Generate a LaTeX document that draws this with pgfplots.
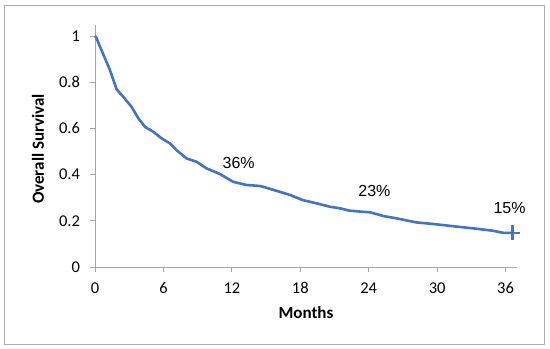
\documentclass[border=0pt]{standalone}
\usepackage{fontspec}
\setmainfont{Carlito}
\newfontfamily\arialf{Liberation Sans}
\usepackage{pgfplots}
\pgfplotsset{compat=1.18}
\definecolor{kmblue}{HTML}{4472C4}
\definecolor{axgray}{HTML}{A6A6A6}
\definecolor{framegray}{HTML}{ADADAD}
\begin{document}
\begin{tikzpicture}
\fill[white] (-95bp,-82bp) rectangle (455bp,267bp);
\draw[framegray, line width=1bp] (-90bp,-77bp) rectangle (449bp,261bp);
\begin{axis}[at={(0,0)}, anchor=origin, scale only axis, width=422bp, height=242bp,
  xmin=0, xmax=37, ymin=0, ymax=1.048,
  axis x line=bottom, axis y line=left,
  axis line style={axgray, line width=0.8bp, -},
  xtick={0,6,...,36}, ytick={0,0.2,0.4,0.6,0.8,1},
  tick align=outside, major tick length=5bp,
  tick style={axgray, line width=0.8bp},
  /pgf/number format/assume math mode=true,
  ticklabel style={font=\fontsize{16.5bp}{19bp}\selectfont, text=black},
  yticklabel style={xshift=-6.5bp},
  xticklabel style={yshift=-7bp},
  xlabel={\textbf{Months}}, ylabel={\textbf{Overall Survival}},
  label style={font=\fontsize{17bp}{20bp}\selectfont},
  xlabel style={at={(axis description cs:0.5,0)}, anchor=center, yshift=-46bp},
  ylabel style={at={(axis description cs:-0.135,0.488)}, anchor=center},
  clip=false,
]
\addplot[kmblue, line width=2.6bp, line join=round] coordinates {
(0,1.0) (0.1,0.995) (0.44,0.954) (0.88,0.903) (1.31,0.853) (1.9,0.769)
(2.48,0.737) (3.2,0.694) (3.8,0.644) (4.38,0.607) (5.1,0.586) (5.84,0.557)
(6.57,0.535) (7.15,0.506) (8.03,0.470) (8.9,0.456) (9.78,0.427) (10.95,0.403)
(12.1,0.369) (13.3,0.355) (14.45,0.351) (14.7,0.348) (15.9,0.330) (17.1,0.312)
(18.2,0.290) (19.4,0.276) (20.6,0.261) (21.5,0.254) (22.3,0.244) (23.5,0.239)
(24.1,0.237) (24.7,0.229) (25.25,0.221) (26.4,0.211) (28.2,0.193) (29.9,0.185)
(31.7,0.175) (33.4,0.166) (34.9,0.157) (35.8,0.148) (36.6,0.148)
};
\addplot[kmblue, only marks, mark=+, mark size=7.5bp, mark options={line width=2.4bp}] coordinates {(36.6,0.148)};
\node[font=\arialf\fontsize{16bp}{19bp}\selectfont] at (axis cs:12.6,0.45) {36\%};
\node[font=\arialf\fontsize{16bp}{19bp}\selectfont] at (axis cs:24.5,0.329) {23\%};
\node[font=\arialf\fontsize{16bp}{19bp}\selectfont] at (axis cs:36.35,0.257) {15\%};
\end{axis}
\end{tikzpicture}
\end{document}
